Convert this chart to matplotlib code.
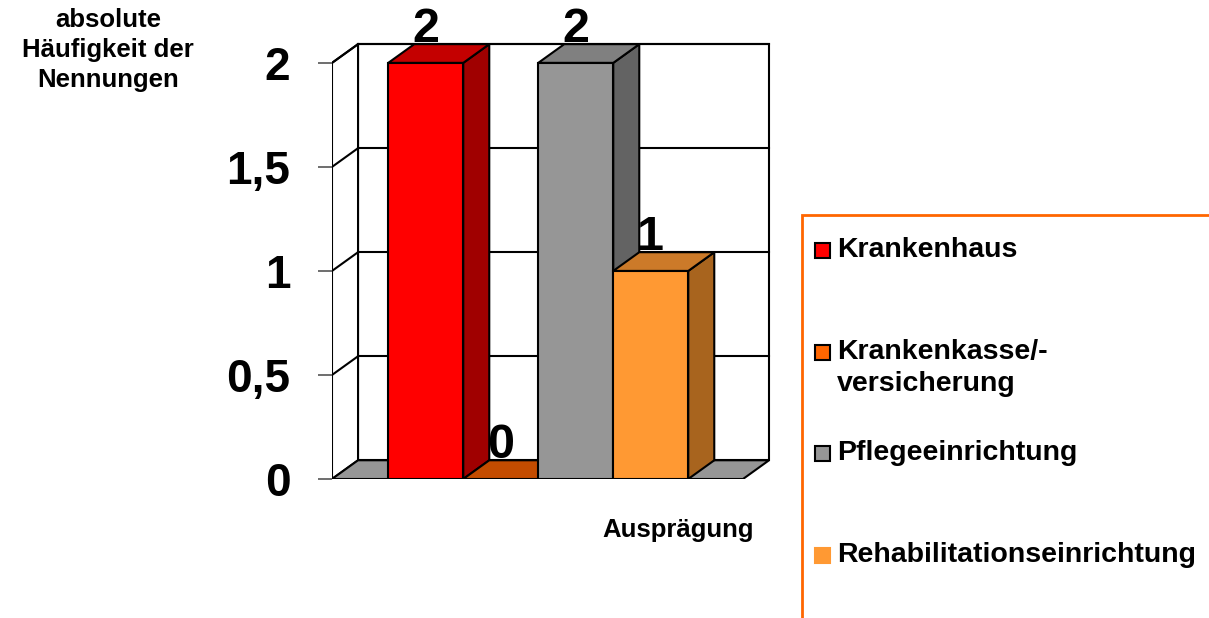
import matplotlib
matplotlib.use("Agg")
import matplotlib.pyplot as plt
from matplotlib.patches import Polygon, Rectangle

plt.rcParams['font.family'] = ['Liberation Sans', 'DejaVu Sans']
plt.rcParams['font.weight'] = 'bold'

# ---- data ----
categories = ["Krankenhaus", "Krankenkasse/-\nversicherung", "Pflegeeinrichtung", "Rehabilitationseinrichtung"]
values = [2, 0, 2, 1]
front_colors = ["#FF0000", "#FF6600", "#969696", "#FF9933"]
side_colors = ["#A00000", "#A04000", "#636363", "#A8641E"]
top_colors = ["#C40000", "#C44C00", "#808080", "#CC7A29"]
legend_edge = [True, True, True, False]
yticks = [0, 0.5, 1, 1.5, 2]
ytick_labels = ["0", "0,5", "1", "1,5", "2"]
y_title = "absolute\nHäufigkeit der\nNennungen"
x_title = "Ausprägung"

W, H = 1209, 618
fig = plt.figure(figsize=(W / 100, H / 100), dpi=100)

# axes: x in bar-width units, y in value units
ax = fig.add_axes([332 / W, (H - 479) / H, 450 / W, 439 / H])
ax.set_xlim(0, 6)
ax.set_ylim(0, 2.11)
for s in ax.spines.values():
    s.set_visible(False)
ax.set_xticks([])
ax.set_yticks(yticks)
ax.set_yticklabels(ytick_labels, fontsize=33, fontweight='bold')
ax.tick_params(axis='y', direction='out', length=10, width=1.2, color='#555555', pad=20)
ax.patch.set_alpha(0)

# 3D geometry
dx, dy = 0.347, 0.09
floor_w = 5.48
vmax = 2.0
lw = 1.5

# back wall
ax.add_patch(Polygon([(dx, dy), (floor_w + dx, dy), (floor_w + dx, vmax + dy), (dx, vmax + dy)],
                     closed=True, facecolor="white", edgecolor="black", lw=lw, zorder=1))
# left wall
ax.add_patch(Polygon([(0, 0), (dx, dy), (dx, vmax + dy), (0, vmax)],
                     closed=True, facecolor="white", edgecolor="black", lw=lw, zorder=1))
# gridlines
for t in yticks[1:]:
    ax.plot([dx, floor_w + dx], [t + dy, t + dy], color="black", lw=lw, zorder=1.5)
    ax.plot([0, dx], [t, t + dy], color="black", lw=lw, zorder=1.5)
# floor
ax.add_patch(Polygon([(0, 0), (floor_w, 0), (floor_w + dx, dy), (dx, dy)],
                     closed=True, facecolor="#969696", edgecolor="black", lw=lw, zorder=1.6))

# bars
x_start = 0.75
for i, (v, fc, sc, tc) in enumerate(zip(values, front_colors, side_colors, top_colors)):
    x0 = x_start + i
    x1 = x0 + 1
    z = 2 + i
    ax.add_patch(Polygon([(x1, 0), (x1 + dx, dy), (x1 + dx, v + dy), (x1, v)],
                         closed=True, facecolor=sc, edgecolor="black", lw=lw, zorder=z))
    ax.add_patch(Polygon([(x0, v), (x1, v), (x1 + dx, v + dy), (x0 + dx, v + dy)],
                         closed=True, facecolor=tc, edgecolor="black", lw=lw, zorder=z))
    if v > 0:
        ax.add_patch(Rectangle((x0, 0), 1, v, facecolor=fc, edgecolor="black", lw=lw, zorder=z))
    ax.text(x0 + 0.5, v + dy + 0.01, str(v), ha='center', va='baseline', fontsize=35,
            fontweight='bold', zorder=10, clip_on=False)

# titles
fig.text(108 / W, 1 - 50 / H, y_title, ha='center', va='center', fontsize=18.5,
         fontweight='bold', linespacing=1.3)
fig.text(678 / W, 1 - 530 / H, x_title, ha='center', va='center', fontsize=18.5, fontweight='bold')

# legend (manual, Excel-like slots)
fig.patches.append(Rectangle((802 / W, -0.05), 0.5, 1 - 215 / H + 0.05, transform=fig.transFigure,
                             facecolor='none', edgecolor='#FF6600', lw=2, figure=fig))
slot_y0 = 251
slot_h = 101.5
for i, (lab, fc, has_edge) in enumerate(zip(categories, front_colors, legend_edge)):
    yc = slot_y0 + i * slot_h
    fig.patches.append(Rectangle((815 / W, 1 - (yc + 7) / H), 15 / W, 15 / H,
                                 transform=fig.transFigure, facecolor=fc,
                                 edgecolor='black' if has_edge else fc, lw=1.5, figure=fig))
    fig.text(837 / W, 1 - (yc - 14) / H, lab, ha='left', va='top', fontsize=20.5,
             fontweight='bold', linespacing=1.32)

fig.savefig("out.png", dpi=100)
